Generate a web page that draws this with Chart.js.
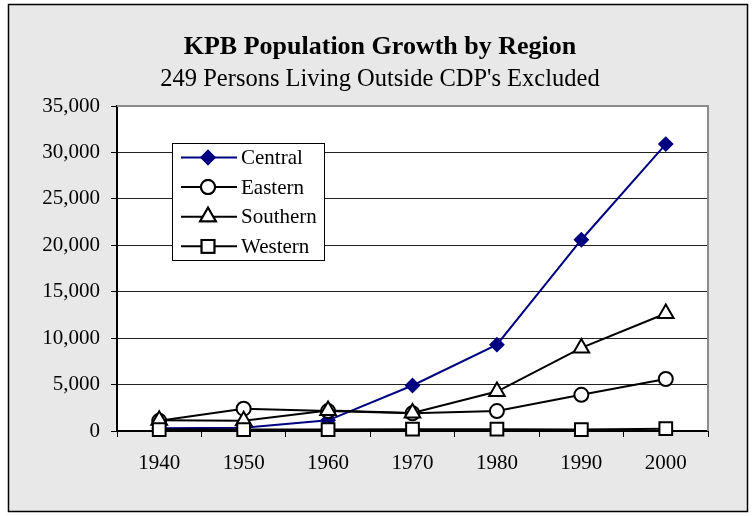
<!DOCTYPE html>
<html>
<head>
<meta charset="utf-8">
<script src="https://cdn.jsdelivr.net/npm/chart.js@4/dist/chart.umd.min.js"></script>
<style>
  html, body { margin: 0; padding: 0; background: #ffffff; }
  #wrap { width: 755px; height: 516px; position: relative; }
</style>
</head>
<body>
<div id="wrap"><canvas id="c" width="755" height="516"></canvas></div>
<script>
// ---- data ----
const years = ['1940', '1950', '1960', '1970', '1980', '1990', '2000'];
const central  = [300, 350, 1150, 4900, 9300, 20600, 30900];
const eastern  = [1100, 2400, 2150, 1900, 2150, 3900, 5600];
const southern = [1150, 1100, 2200, 1950, 4250, 8950, 12650];
const western  = [150, 150, 150, 200, 200, 150, 250];
const seriesNames = ['Central', 'Eastern', 'Southern', 'Western'];
const titleText = 'KPB Population Growth by Region';
const subtitleText = "249 Persons Living Outside CDP's Excluded";

const FONT = "'Liberation Serif', 'Times New Roman', serif";

const frameBg = {
  id: 'frameBg',
  afterLayout(chart) {
    // centre the title blocks over the framed area
    chart.boxes.forEach(b => {
      if (b && b.options && (b.options.text === titleText || b.options.text === subtitleText)) {
        b.left = 52; b.right = 708;
      }
    });
  },
  beforeDraw(chart) {
    const ctx = chart.ctx;
    const a = chart.chartArea;
    ctx.save();
    ctx.fillStyle = '#ffffff';
    ctx.fillRect(0, 0, chart.width, chart.height);
    ctx.fillStyle = '#e8e8e8';
    ctx.fillRect(8, 4, 740, 508);
    ctx.strokeStyle = '#000000';
    ctx.lineWidth = 1.5;
    ctx.strokeRect(8.5, 4.5, 739, 507);
    ctx.fillStyle = '#ffffff';
    ctx.fillRect(a.left, a.top, a.right - a.left, a.bottom - a.top);
    ctx.restore();
  },
  beforeDatasetsDraw(chart) {
    const ctx = chart.ctx;
    const a = chart.chartArea;
    ctx.save();
    ctx.strokeStyle = '#8c8c8c';
    ctx.lineWidth = 2;
    ctx.beginPath();
    ctx.moveTo(a.left, a.top);
    ctx.lineTo(a.right, a.top);
    ctx.lineTo(a.right, a.bottom);
    ctx.stroke();
    ctx.restore();
  }
};

const boxLegend = {
  id: 'boxLegend',
  afterDraw(chart) {
    const ctx = chart.ctx;
    const x0 = 172.5, y0 = 143.5, w = 152, h = 117;
    ctx.save();
    ctx.fillStyle = '#ffffff';
    ctx.fillRect(x0, y0, w, h);
    ctx.strokeStyle = '#000000';
    ctx.lineWidth = 1;
    ctx.strokeRect(x0, y0, w, h);
    ctx.font = '21px ' + FONT;
    ctx.textBaseline = 'middle';
    ctx.textAlign = 'left';
    chart.data.datasets.forEach((ds, i) => {
      const y = 157.5 + i * 29.6;
      ctx.strokeStyle = ds.borderColor;
      ctx.lineWidth = 2;
      ctx.beginPath();
      ctx.moveTo(181, y);
      ctx.lineTo(237, y);
      ctx.stroke();
      Chart.helpers.drawPoint(ctx, {
        pointStyle: ds.pointStyle,
        radius: ds.pointRadius,
        rotation: 0,
        borderWidth: ds.pointBorderWidth
      }, 208, y);
      ctx.fillStyle = ds.pointBackgroundColor;
      ctx.strokeStyle = ds.pointBorderColor;
      ctx.lineWidth = ds.pointBorderWidth;
      ctx.fill();
      ctx.stroke();
      ctx.fillStyle = '#000000';
      ctx.fillText(seriesNames[i], 241, y + 1);
    });
    ctx.restore();
  }
};

const mk = (label, data, color, style, radius, fill, order) => ({
  label, data,
  borderColor: color,
  backgroundColor: fill,
  borderWidth: 2,
  pointStyle: style,
  pointRadius: radius,
  pointHoverRadius: radius,
  pointBackgroundColor: fill,
  pointBorderColor: color,
  pointBorderWidth: 2,
  tension: 0,
  fill: false,
  clip: false,
  order
});

new Chart(document.getElementById('c'), {
  type: 'line',
  data: {
    labels: years,
    datasets: [
      mk(seriesNames[0], central, '#000080', 'rectRot', 6.5, '#000080', 4),
      mk(seriesNames[1], eastern, '#000000', 'circle', 7, '#ffffff', 3),
      mk(seriesNames[2], southern, '#000000', 'triangle', 9, '#ffffff', 2),
      mk(seriesNames[3], western, '#000000', 'rect', 9, '#ffffff', 1)
    ]
  },
  options: {
    responsive: false,
    animation: false,
    devicePixelRatio: 1,
    layout: { padding: { left: 0, right: 47, top: 0, bottom: 0 } },
    plugins: {
      legend: { display: false },
      tooltip: { enabled: false },
      title: {
        display: true,
        text: titleText,
        color: '#000000',
        font: { family: FONT, size: 26, weight: 'bold', lineHeight: 1.2 },
        padding: { top: 32, bottom: 2 }
      },
      subtitle: {
        display: true,
        text: subtitleText,
        color: '#000000',
        font: { family: FONT, size: 24.5, weight: 'normal', lineHeight: 1.2 },
        padding: { top: 0, bottom: 11.4 }
      }
    },
    scales: {
      x: {
        offset: true,
        grid: {
          offset: true,
          drawOnChartArea: false,
          drawTicks: true,
          tickLength: 6,
          color: '#000000',
          lineWidth: 1
        },
        border: { display: true, color: '#000000', width: 2 },
        ticks: {
          color: '#000000',
          font: { family: FONT, size: 21 },
          padding: 14,
          maxRotation: 0,
          autoSkip: false
        },
        afterFit(scale) { scale.height = 85; }
      },
      y: {
        min: 0,
        max: 35000,
        grid: {
          color: (c) => (c.tick && c.tick.value === 35000 ? '#8c8c8c' : '#222222'),
          lineWidth: 1,
          drawTicks: true,
          tickLength: 6,
          tickColor: '#000000'
        },
        border: { display: true, color: '#000000', width: 2 },
        ticks: {
          stepSize: 5000,
          color: '#000000',
          font: { family: FONT, size: 21 },
          padding: 11,
          callback: (v) => v.toLocaleString('en-US')
        },
        afterFit(scale) { scale.width = 117; }
      }
    }
  },
  plugins: [frameBg, boxLegend]
});
</script>
</body>
</html>
